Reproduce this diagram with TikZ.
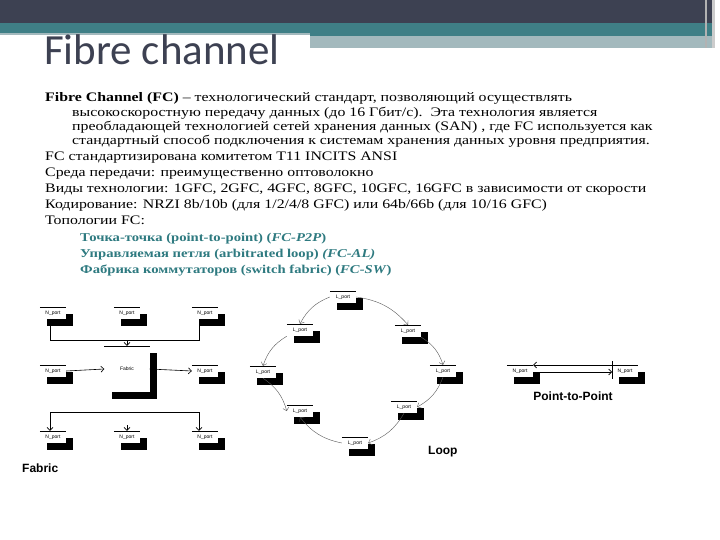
\documentclass[tikz,border=0pt]{standalone}
\usepackage{fontspec}
\setmainfont{Liberation Serif}[FakeStretch=1.22]
\newfontfamily\titlef{Carlito}
\newfontfamily\labf{Liberation Sans}
\usetikzlibrary{arrows.meta}
\definecolor{barD}{HTML}{3D4152}
\definecolor{barT}{HTML}{3F7F86}
\definecolor{barL}{HTML}{A3B9BD}
\definecolor{teal}{HTML}{2E7A80}
\tikzset{
 port/.style={fill=white,minimum width=26pt,minimum height=12pt,inner sep=0pt,font=\labf\fontsize{5}{5}\selectfont,
   append after command={(\tikzlastnode.north west) edge[draw=black,line width=0.5pt] (\tikzlastnode.north east)}},
 shade/.style={fill=black,minimum width=26pt,minimum height=12pt,inner sep=0pt,xshift=7pt,yshift=-7pt},
 link/.style={draw=black,line width=0.6pt,-{Straight Barb[length=3pt]}},
 ring/.style={draw=gray!70!black,line width=0.4pt,-{Straight Barb[length=3pt]}},
 line/.style={draw=black,line width=0.6pt},
 body/.style={anchor=base west,inner sep=0pt,font=\fontsize{13}{13}\selectfont},
 item/.style={body,text=teal,font=\bfseries\fontsize{12}{12}\selectfont},
 captext/.style={font=\labf\bfseries\fontsize{12}{12}\selectfont,inner sep=0pt}
}
\newcommand\mkport[3]{\node[shade] (#1s) at (#2) {};\node[port] (#1) at (#2) {#3};}
\begin{document}
\begin{tikzpicture}[x=1pt,y=-1pt]
\useasboundingbox (0,0) rectangle (720,540);
\fill[white] (0,0) rectangle (720,540);
% top bars
\fill[barD] (0,0) rectangle (715,23);
\fill[barT] (0,23) rectangle (715,33);
\fill[barL] (0,33) rectangle (310,35);
\fill[barL] (310,33) rectangle (712,48);
\fill[barT] (310,33) rectangle (712,36);
\fill[gray!60] (705,0) rectangle (707,48);
\fill[gray!40] (712,0) rectangle (715,48);
\node[anchor=base west,inner sep=0pt,font=\titlef\fontsize{43}{43}\selectfont,text=barD] (title) at (44,65) {Fibre channel};
% body
\node[body] (t1) at (45,102) {\textbf{Fibre Channel (FC)} – технологический стандарт, позволяющий осуществлять};
\node[body] (t2) at (72,117) {высокоскоростную передачу данных (до 16 Гбит/с).\ \ Эта технология является};
\node[body] (t3) at (72,131) {преобладающей технологией сетей хранения данных (SAN) , где FC используется как};
\node[body] (t4) at (72,145) {стандартный способ подключения к системам хранения данных уровня предприятия.};
\node[body] (t5) at (45,161) {FC стандартизирована комитетом T11 INCITS ANSI};
\node[body] (t6) at (45,177) {Среда передачи: преимущественно оптоволокно};
\node[body] (t7) at (45,193) {Виды технологии: 1GFC, 2GFC, 4GFC, 8GFC, 10GFC, 16GFC в зависимости от скорости};
\node[body] (t8) at (45,209) {Кодирование: NRZI 8b/10b (для 1/2/4/8 GFC) или 64b/66b (для 10/16 GFC)};
\node[body] (t9) at (45,225) {Топологии FC:};
\node[item] (u1) at (80,241) {Точка-точка (point-to-point) (\textit{FC-P2P})};
\node[item] (u2) at (80,257) {Управляемая петля (arbitrated loop) \textit{(FC-AL)}};
\node[item] (u3) at (80,273) {Фабрика коммутаторов (switch fabric) (\textit{FC-SW})};
% Fabric
\mkport{f1}{53,313}{N\_port}
\mkport{f2}{127,313}{N\_port}
\mkport{f3}{205,313}{N\_port}
\mkport{f4}{53,371}{N\_port}
\node[shade,minimum width=45pt,minimum height=46pt] (fabs) at (127,369) {};
\node[port,minimum width=45pt,minimum height=46pt] (fab) at (127,369) {Fabric};
\mkport{f5}{205,371}{N\_port}
\mkport{f6}{53,437}{N\_port}
\mkport{f7}{127,437}{N\_port}
\mkport{f8}{205,437}{N\_port}
\coordinate (tl) at (50,340); \coordinate (tr) at (199,340);
\draw[line] (f1.south -| tl) -- (tl) -- (tr) -- (f3.south -| tr);
\draw[link] (fab.north |- tl) -- (fab.north);
\draw[link] (f4.east) -- (fab.west);
\draw[link] (fab.east) -- (f5.west);
\coordinate (bl) at (50,412); \coordinate (br) at (199,412);
\draw[line] (bl) -- (br);
\draw[link] (bl) -- (f6.north -| bl);
\draw[link] (br) -- (f8.north -| br);
\coordinate (bm) at (127,425);
\draw[link] (bm) -- (f7.north);
\node[captext,anchor=west] (fl) at (22,468) {Fabric};
% Loop
\mkport{l1}{343,297}{L\_port}
\mkport{l2}{408,331}{L\_port}
\mkport{l3}{443,371}{L\_port}
\mkport{l4}{404,407}{L\_port}
\mkport{l5}{355,443}{L\_port}
\mkport{l6}{300,411}{L\_port}
\mkport{l7}{263,372}{L\_port}
\mkport{l8}{300,330}{L\_port}
\draw[ring] (l1.east) to[bend left=20] (l2.north);
\draw[ring] (l2.south east) to[bend left=20] (l3.north);
\draw[ring] (l3.south) to[bend left=20] (l4.east);
\draw[ring] (l4.south) to[bend left=20] (l5.east);
\draw[ring] (l5.west) to[bend left=20] (l6.south);
\draw[ring] (l7.south) to[bend right=-20] (l6.west);
\draw[ring] (l8.south west) to[bend left=-20] (l7.north);
\draw[ring] (l1.west) to[bend left=-20] (l8.north);
\node[captext,anchor=west] (ll) at (428,452) {Loop};
% Point-to-point
\mkport{p1}{520,371}{N\_port}
\mkport{p2}{625,371}{N\_port}
\coordinate (pt) at (612,365);
\draw[line] (612,361) -- (612,379);
\draw[link] (pt) -- (p1.east |- pt);
\draw[link] (p1.east |- 0,372) -- (612,372);
\node[captext] (pl) at (573,396) {Point-to-Point};
\end{tikzpicture}
\end{document}
